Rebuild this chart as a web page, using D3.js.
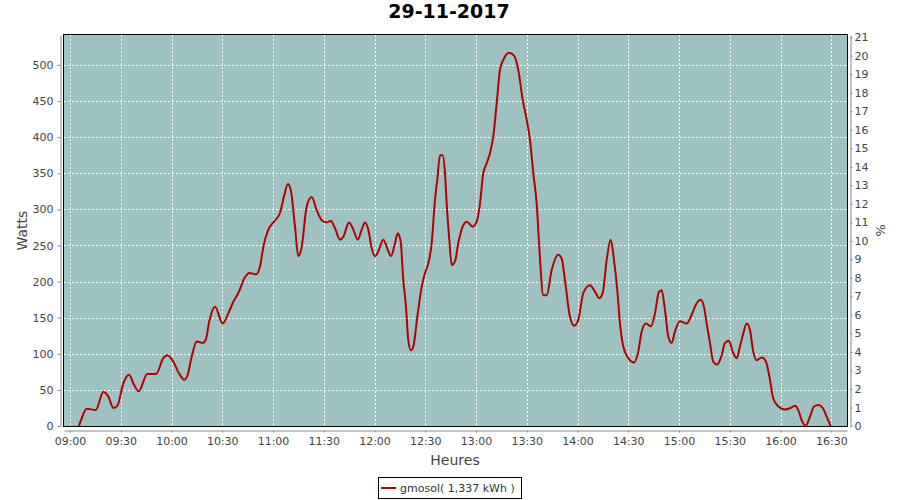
<!DOCTYPE html>
<html>
<head>
<meta charset="utf-8">
<script src="https://cdn.jsdelivr.net/npm/d3@7"></script>
<style>
  html, body { margin: 0; padding: 0; background: #fff; }
  svg { display: block; }
  text { font-family: "DejaVu Sans", sans-serif; }
</style>
</head>
<body>
<svg id="chart" width="900" height="500"></svg>
<script>
const title = "29-11-2017";
const yLabel = "Watts";
const y2Label = "%";
const xLabel = "Heures";
const legendLabel = "gmosol( 1,337 kWh )";

const times = [
"09:05:19","09:06:30","09:09:52","09:15:11","09:19:41","09:22:38","09:25:36","09:27:58","09:31:30","09:34:52",
"09:37:50","09:40:37","09:45:42","09:50:50","09:55:09","09:57:31","10:01:04","10:04:26","10:07:34","10:09:34",
"10:11:56","10:14:53","10:18:26","10:20:13","10:22:20","10:25:43","10:30:16","10:33:34","10:36:32","10:39:29",
"10:43:26","10:45:59","10:49:56","10:52:19","10:54:16","10:57:13","11:00:10","11:04:08","11:06:30","11:08:52",
"11:10:38","11:13:00","11:14:57","11:16:58","11:19:55","11:22:52","11:25:49","11:28:47","11:31:44","11:34:17",
"11:36:38","11:39:36","11:41:33","11:44:55","11:47:28","11:50:04","11:52:25","11:54:22","11:56:20","11:58:20",
"12:00:17","12:02:39","12:05:11","12:07:33","12:09:45","12:12:06","12:13:42","12:15:29","12:17:01","12:18:37",
"12:19:58","12:21:34","12:22:56","12:25:18","12:27:54","12:29:51","12:31:48","12:33:48","12:35:45","12:37:07",
"12:38:42","12:40:18","12:41:40","12:42:40","12:44:12","12:45:37","12:47:34","12:49:31","12:52:07","12:54:29",
"12:58:02","13:00:24","13:02:21","13:04:18","13:06:19","13:08:16","13:10:13","13:12:13","13:14:10","13:16:32",
"13:19:29","13:22:27","13:24:59","13:27:35","13:29:58","13:31:55","13:33:52","13:35:52","13:37:24","13:39:46",
"13:41:47","13:44:44","13:48:38","13:50:38","13:52:35","13:55:33","13:58:05","14:00:28","14:03:25","14:07:22",
"14:10:20","14:12:52","14:14:53","14:17:15","14:19:36","14:21:33","14:23:31","14:25:06","14:27:04","14:30:01",
"14:33:23","14:35:55","14:37:56","14:40:28","14:43:26","14:45:47","14:48:10","14:49:45","14:51:42","14:53:39",
"14:55:40","14:57:37","15:00:34","15:04:32","15:07:29","15:10:26","15:12:49","15:14:46","15:16:21","15:18:18",
"15:20:16","15:22:37","15:25:13","15:27:10","15:29:32","15:31:43","15:34:05","15:36:02","15:37:59","15:40:00",
"15:41:57","15:43:54","15:45:55","15:48:52","15:51:25","15:53:46","15:55:43","15:58:41","16:02:38","16:06:01",
"16:08:33","16:10:30","16:12:31","16:14:52","16:17:25","16:19:47","16:22:19","16:24:55","16:27:17","16:29:39"
];

const watts = [
0,8,24,22,47,41,25,28,59,71,
57,48,72,72,94,98,89,73,64,71,
96,117,115,119,145,165,142,156,172,184,
206,212,210,221,248,272,282,295,318,335,
325,276,235,248,304,317,299,285,282,284,
274,258,262,282,272,258,272,282,272,246,
235,244,258,246,235,253,267,255,202,165,
119,105,110,151,193,212,225,253,313,341,
375,375,350,308,258,223,228,253,276,283,
276,283,308,350,364,378,401,447,493,509,
517,513,493,452,424,396,350,308,248,181,
181,216,237,232,202,151,139,147,184,195,
186,177,184,230,258,230,188,142,110,94,
88,103,131,142,138,156,186,188,161,124,
115,131,145,142,154,170,175,165,142,115,
89,85,98,115,118,103,94,110,128,142,
133,103,91,95,89,64,38,27,23,25,
28,22,8,0,13,27,29,25,13,0
];

const xTickLabels = ["09:00","09:30","10:00","10:30","11:00","11:30","12:00","12:30",
                     "13:00","13:30","14:00","14:30","15:00","15:30","16:00","16:30"];
const yTicks = [0,50,100,150,200,250,300,350,400,450,500];
const y2Ticks = [0,1,2,3,4,5,6,7,8,9,10,11,12,13,14,15,16,17,18,19,20,21];
const xDomain = ["08:56:27","16:39:18"];
const yMax = 541.5;
const y2Max = 21.12;

const parse = d3.timeParse("%H:%M:%S");
const parseHM = d3.timeParse("%H:%M");
const data = times.map((t, i) => ({ t: parse(t), v: watts[i] }));

const plot = { left: 64, right: 847, top: 35, bottom: 426 };

const svg = d3.select("#chart");

const x = d3.scaleTime().domain(xDomain.map(parse)).range([plot.left, plot.right]);
const y = d3.scaleLinear().domain([0, yMax]).range([plot.bottom, plot.top]);
const y2 = d3.scaleLinear().domain([0, y2Max]).range([plot.bottom, plot.top]);

// plot background
svg.append("rect")
  .attr("x", plot.left).attr("y", plot.top)
  .attr("width", plot.right - plot.left).attr("height", plot.bottom - plot.top)
  .attr("fill", "#9ec2c2");

// grid
const grid = svg.append("g").attr("stroke", "#ffffff").attr("stroke-width", 1)
  .attr("stroke-dasharray", "2,2").attr("shape-rendering", "crispEdges");
grid.selectAll("line.h").data(yTicks.filter(d => d > 0)).join("line")
  .attr("x1", plot.left).attr("x2", plot.right)
  .attr("y1", d => Math.round(y(d)) + 0.5).attr("y2", d => Math.round(y(d)) + 0.5);
grid.selectAll("line.v").data(xTickLabels.map(parseHM)).join("line")
  .attr("y1", plot.top).attr("y2", plot.bottom)
  .attr("x1", d => Math.round(x(d)) + 0.5).attr("x2", d => Math.round(x(d)) + 0.5);

// line
const line = d3.line().x(d => x(d.t)).y(d => y(d.v)).curve(d3.curveMonotoneX);
svg.append("path").datum(data)
  .attr("d", line).attr("fill", "none")
  .attr("stroke", "#b40000").attr("stroke-width", 2).attr("stroke-linejoin", "round");

// border
svg.append("rect")
  .attr("x", plot.left - 0.5).attr("y", plot.top - 0.5)
  .attr("width", plot.right - plot.left + 1).attr("height", plot.bottom - plot.top + 1)
  .attr("fill", "none").attr("stroke", "#000").attr("stroke-width", 1);

function styleAxis(g) {
  g.selectAll("path.domain").attr("stroke", "#888");
  g.selectAll(".tick line").attr("stroke", "#888");
  g.selectAll(".tick text").attr("fill", "#444").style("font-size", "11px")
    .style("font-family", "'DejaVu Sans', sans-serif");
}

// left axis
svg.append("g").attr("transform", "translate(60.5,0)")
  .call(d3.axisLeft(y).tickValues(yTicks).tickSize(3).tickSizeOuter(0).tickPadding(4))
  .call(styleAxis);

// right axis
svg.append("g").attr("transform", "translate(850.5,0)")
  .call(d3.axisRight(y2).tickValues(y2Ticks).tickSize(2).tickSizeOuter(0).tickPadding(2))
  .call(styleAxis);

// bottom axis
svg.append("g").attr("transform", "translate(0,430.5)")
  .call(d3.axisBottom(x).tickValues(xTickLabels.map(parseHM)).tickFormat(d3.timeFormat("%H:%M"))
    .tickSize(2).tickSizeOuter(0).tickPadding(5))
  .call(styleAxis);

// titles
svg.append("text").attr("x", 449).attr("y", 18).attr("text-anchor", "middle")
  .style("font-size", "19px").style("font-weight", "bold").attr("fill", "#000").text(title);

svg.append("text").attr("transform", "translate(26.5,230.5) rotate(-90)")
  .attr("text-anchor", "middle").style("font-size", "14px").attr("fill", "#444").text(yLabel);

svg.append("text").attr("transform", "translate(876,230.5) rotate(90)")
  .attr("text-anchor", "middle").style("font-size", "13px").attr("fill", "#444").text(y2Label);

svg.append("text").attr("x", 455).attr("y", 464.5).attr("text-anchor", "middle")
  .style("font-size", "14px").attr("fill", "#444").text(xLabel);

// legend
const lg = svg.append("g");
lg.append("rect").attr("x", 378.5).attr("y", 477.5).attr("width", 143).attr("height", 21)
  .attr("fill", "#fff").attr("stroke", "#000").attr("stroke-width", 1);
lg.append("line").attr("x1", 381).attr("x2", 396).attr("y1", 488).attr("y2", 488)
  .attr("stroke", "#b40000").attr("stroke-width", 2);
lg.append("text").attr("x", 400).attr("y", 492).style("font-size", "11px")
  .attr("fill", "#333").text(legendLabel);
</script>
</body>
</html>
